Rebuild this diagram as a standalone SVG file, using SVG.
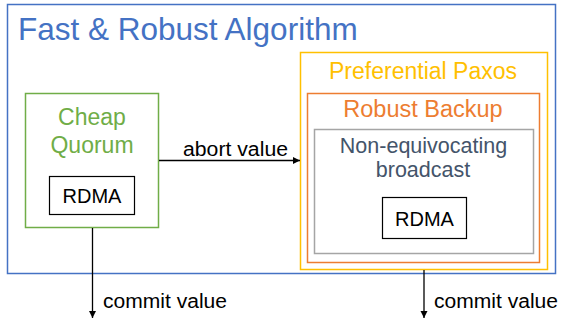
<svg xmlns="http://www.w3.org/2000/svg" width="563" height="320" viewBox="0 0 563 320">
<style>
text{font-family:"Liberation Sans",Arial,Helvetica,sans-serif}
.box{fill:none;stroke-width:1.5}
.lbl{font-size:20px;fill:#000}
.conn{stroke:#000;stroke-width:1.3;fill:none}
</style>
<defs>
<marker id="ah" markerWidth="8" markerHeight="8" refX="7" refY="4" orient="auto" markerUnits="userSpaceOnUse">
<path d="M0,0.5 L7,4 L0,7.5 Z" fill="#000"/>
</marker>
</defs>
<rect width="563" height="320" fill="#fff"/>
<g id="fast-robust">
<rect class="box" x="7.5" y="4.5" width="548" height="269" stroke="#4472C4"/>
<text x="18" y="40" font-size="31.5" fill="#4472C4">Fast &amp; Robust Algorithm</text>
</g>
<g id="cheap-quorum">
<rect class="box" x="25.5" y="93.5" width="133" height="134" stroke="#70AD47"/>
<text x="92" y="125" font-size="23" fill="#70AD47" text-anchor="middle">Cheap</text>
<text x="92" y="153" font-size="23" fill="#70AD47" text-anchor="middle">Quorum</text>
</g>
<g id="rdma-left">
<rect x="49.5" y="176.5" width="85" height="38" fill="none" stroke="#000" stroke-width="1.2"/>
<text x="92" y="203" font-size="20" text-anchor="middle">RDMA</text>
</g>
<g id="preferential-paxos">
<rect class="box" x="300.5" y="52.5" width="247" height="217" stroke="#FFC000"/>
<text x="423" y="79" font-size="23" fill="#FFC000" text-anchor="middle">Preferential Paxos</text>
</g>
<g id="robust-backup">
<rect class="box" x="307.5" y="93.5" width="232" height="169" stroke="#ED7D31"/>
<text x="423" y="117" font-size="23.5" fill="#ED7D31" text-anchor="middle">Robust Backup</text>
</g>
<g id="non-equivocating">
<rect class="box" x="314.5" y="129.5" width="219" height="124" stroke="#A5A5A5"/>
<text x="423.5" y="153" font-size="21.5" fill="#44546A" text-anchor="middle">Non-equivocating</text>
<text x="423" y="177" font-size="21.5" fill="#44546A" text-anchor="middle">broadcast</text>
</g>
<g id="rdma-right">
<rect x="382.5" y="197.5" width="84" height="41" fill="none" stroke="#000" stroke-width="1.2"/>
<text x="424.5" y="226" font-size="20" text-anchor="middle">RDMA</text>
</g>
<g id="connectors">
<line class="conn" x1="159" y1="160.5" x2="300" y2="160.5" marker-end="url(#ah)"/>
<text class="lbl" x="183" y="156" textLength="105" lengthAdjust="spacingAndGlyphs">abort value</text>
<line class="conn" x1="92.5" y1="228" x2="92.5" y2="318" marker-end="url(#ah)"/>
<text class="lbl" x="103" y="307.5" textLength="124" lengthAdjust="spacingAndGlyphs">commit value</text>
<line class="conn" x1="424" y1="270" x2="424" y2="318" marker-end="url(#ah)"/>
<text class="lbl" x="434" y="308" textLength="124" lengthAdjust="spacingAndGlyphs">commit value</text>
</g>
</svg>
